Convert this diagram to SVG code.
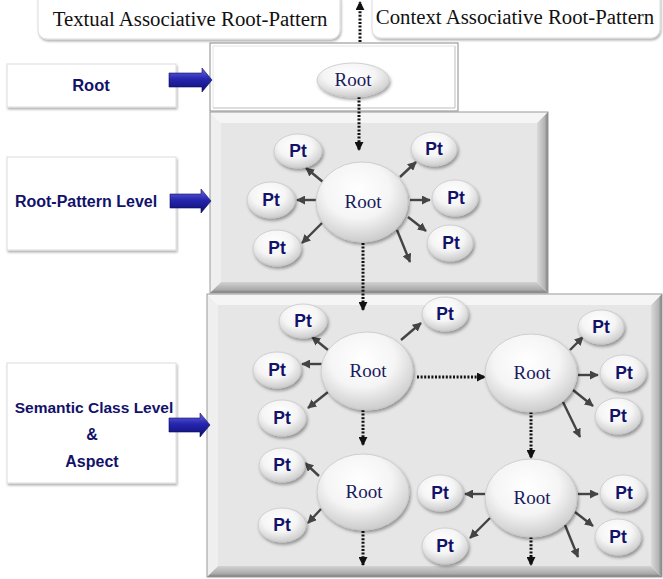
<svg xmlns="http://www.w3.org/2000/svg" width="663" height="579" viewBox="0 0 663 579">
<defs>
<style>
.lbl{fill:#fff;stroke:#dcdcdc;stroke-width:1;filter:url(#ls)}
.lt{font-family:"Liberation Sans",Arial,sans-serif;font-weight:bold;fill:#12126a;text-anchor:middle}
.st{font-family:"Liberation Serif","Times New Roman",serif;fill:#111;text-anchor:middle;font-size:20.8px}
.el{fill:url(#eg);stroke:#c8c8c8;stroke-width:.8;filter:url(#sh)}
.rt{font-family:"Liberation Serif","Times New Roman",serif;fill:#1a1a5e;font-size:19px;text-anchor:middle}
.pt{font-family:"Liberation Sans",Arial,sans-serif;font-weight:bold;fill:#12126a;font-size:17.5px;text-anchor:middle}
.sa{stroke:#444;stroke-width:2.4;fill:none;marker-end:url(#ah)}
.da{stroke:#111;stroke-width:3;stroke-dasharray:2 1.6;fill:none;marker-end:url(#dh)}
.ba{fill:url(#bg);stroke:#0c0c5a;stroke-width:.6}
.bt{fill:#f5f5f5}
.bl{fill:#efefef}
.br{fill:url(#gr)}
.bb{fill:url(#gb)}
.bf{fill:#e6e6e6}
.bo{fill:none;stroke:#9a9a9a;stroke-width:1}
</style>
<radialGradient id="eg" cx="45%" cy="35%" r="65%">
<stop offset="0" stop-color="#ffffff"/>
<stop offset="0.55" stop-color="#f5f5f5"/>
<stop offset="1" stop-color="#cdcdcd"/>
</radialGradient>
<linearGradient id="bg" x1="0" y1="0" x2="0" y2="1">
<stop offset="0" stop-color="#6a6ae0"/>
<stop offset="0.45" stop-color="#2626b0"/>
<stop offset="1" stop-color="#0e0e6e"/>
</linearGradient>
<linearGradient id="gr" x1="0" y1="0" x2="1" y2="0">
<stop offset="0" stop-color="#dadada"/>
<stop offset="0.7" stop-color="#b4b4b4"/>
<stop offset="1" stop-color="#7a7a7a"/>
</linearGradient>
<linearGradient id="gb" x1="0" y1="0" x2="0" y2="1">
<stop offset="0" stop-color="#d2d2d2"/>
<stop offset="0.7" stop-color="#aaaaaa"/>
<stop offset="1" stop-color="#777777"/>
</linearGradient>
<filter id="sh" x="-20%" y="-20%" width="150%" height="150%">
<feDropShadow dx="1.5" dy="2.5" stdDeviation="1.8" flood-color="#000" flood-opacity="0.35"/>
</filter>
<filter id="ls" x="-10%" y="-10%" width="125%" height="130%">
<feDropShadow dx="1" dy="2" stdDeviation="1.2" flood-color="#000" flood-opacity="0.3"/>
</filter>
<marker id="ah" viewBox="0 0 10 10" refX="9" refY="5" markerWidth="9" markerHeight="9" markerUnits="userSpaceOnUse" orient="auto">
<path d="M0,0 L10,5 L0,10 z" fill="#444"/>
</marker>
<marker id="dh" viewBox="0 0 10 10" refX="9" refY="5" markerWidth="9" markerHeight="9" markerUnits="userSpaceOnUse" orient="auto">
<path d="M0,0 L10,5 L0,10 z" fill="#111"/>
</marker>
</defs>

<rect width="663" height="579" fill="#fff"/>

<!-- top headings -->
<g id="textual-box">
<rect class="lbl" x="38" y="-10" width="302" height="49" rx="9"/>
<text class="st" x="190" y="26">Textual Associative Root-Pattern</text>
</g>
<g id="context-box">
<rect class="lbl" x="372" y="-10" width="288" height="48" rx="9"/>
<text class="st" x="515" y="24">Context Associative Root-Pattern</text>
</g>

<!-- left labels -->
<g id="label-root">
<rect class="lbl" x="7" y="64" width="169" height="43"/>
<text class="lt" x="91" y="91" font-size="16.5">Root</text>
</g>
<g id="label-rootpattern">
<rect class="lbl" x="7" y="157" width="169" height="93"/>
<text class="lt" x="86" y="207" font-size="16">Root-Pattern Level</text>
</g>
<g id="label-semantic">
<rect class="lbl" x="7" y="363" width="169" height="120"/>
<text class="lt" x="94" y="413" font-size="15.5">Semantic Class Level</text>
<text class="lt" x="92" y="440" font-size="16">&amp;</text>
<text class="lt" x="92" y="467" font-size="16">Aspect</text>
</g>

<!-- level frames -->
<g id="frame-root">
<rect x="210" y="43" width="248" height="68" fill="#fff" stroke="#8a8a8a" stroke-width="1"/>
<polyline points="213,108 213,46 455,46" fill="none" stroke="#e4e4e4" stroke-width="1"/>
<polyline points="213,108 455,108 455,46" fill="none" stroke="#bdbdbd" stroke-width="1"/>
</g>
<g id="frame-rootpattern">
<polygon class="bt" points="210,112 548,112 537,123 221,123"/>
<polygon class="bl" points="210,112 221,123 221,282 210,293"/>
<polygon class="br" points="548,112 548,293 537,282 537,123"/>
<polygon class="bb" points="210,293 548,293 537,282 221,282"/>
<rect class="bf" x="221" y="123" width="316" height="159"/>
<rect class="bo" x="210" y="112" width="338" height="181"/>
</g>
<g id="frame-semantic">
<polygon class="bt" points="207,294 662,294 651,305 218,305"/>
<polygon class="bl" points="207,294 218,305 218,566 207,577"/>
<polygon class="br" points="662,294 662,577 651,566 651,305"/>
<polygon class="bb" points="207,577 662,577 651,566 218,566"/>
<rect class="bf" x="218" y="305" width="433" height="261"/>
<rect class="bo" x="207" y="294" width="455" height="283"/>
</g>

<!-- blue arrows -->
<g id="blue-arrows">
<path class="ba" d="M169,73 H202 V68 L212,80 L202,92 V87 H169 Z"/>
<path class="ba" d="M170,194 H201 V189 L211,201 L201,213 V208 H170 Z"/>
<path class="ba" d="M169,418 H200 V413 L210,425 L200,437 V432 H169 Z"/>
</g>

<!-- connectors -->
<g id="connectors">
<line class="da" x1="360" y1="42" x2="360" y2="2"/>
<line class="da" x1="359" y1="97" x2="359" y2="150"/>
<line class="da" x1="363" y1="243" x2="363" y2="310"/>
<line class="da" x1="417" y1="377" x2="485" y2="377"/>
<line class="da" x1="363" y1="410" x2="363" y2="445"/>
<line class="da" x1="531" y1="412" x2="531" y2="458"/>
<line class="da" x1="363" y1="531" x2="363" y2="565"/>
<line class="da" x1="531" y1="537" x2="531" y2="565"/>

<line class="sa" x1="323" y1="182" x2="306" y2="168"/>
<line class="sa" x1="400" y1="177" x2="416" y2="162"/>
<line class="sa" x1="316" y1="200" x2="297" y2="200"/>
<line class="sa" x1="410" y1="200" x2="430" y2="200"/>
<line class="sa" x1="322" y1="223" x2="302" y2="243"/>
<line class="sa" x1="408" y1="217" x2="426" y2="231"/>
<line class="sa" x1="397" y1="230" x2="410" y2="262"/>

<line class="sa" x1="328" y1="350" x2="312" y2="337"/>
<line class="sa" x1="401" y1="340" x2="421" y2="323"/>
<line class="sa" x1="322" y1="364" x2="302" y2="364"/>
<line class="sa" x1="328" y1="392" x2="308" y2="408"/>

<line class="sa" x1="570" y1="350" x2="583" y2="337"/>
<line class="sa" x1="578" y1="375" x2="598" y2="375"/>
<line class="sa" x1="573" y1="390" x2="593" y2="406"/>
<line class="sa" x1="563" y1="402" x2="580" y2="437"/>

<line class="sa" x1="319" y1="476" x2="305" y2="463"/>
<line class="sa" x1="321" y1="509" x2="308" y2="523"/>

<line class="sa" x1="485" y1="494" x2="465" y2="494"/>
<line class="sa" x1="490" y1="518" x2="470" y2="538"/>
<line class="sa" x1="578" y1="494" x2="598" y2="494"/>
<line class="sa" x1="575" y1="512" x2="593" y2="526"/>
<line class="sa" x1="565" y1="525" x2="578" y2="557"/>
</g>

<!-- root nodes -->
<g id="root-top"><ellipse class="el" cx="353" cy="80" rx="36" ry="17"/><text class="rt" x="353" y="86">Root</text></g>
<g id="root-pattern"><ellipse class="el" cx="362" cy="202" rx="46" ry="40"/><text class="rt" x="363" y="208">Root</text></g>
<g id="root-a"><ellipse class="el" cx="367" cy="371" rx="46" ry="39"/><text class="rt" x="368" y="377">Root</text></g>
<g id="root-b"><ellipse class="el" cx="531" cy="373" rx="46" ry="39"/><text class="rt" x="532" y="379">Root</text></g>
<g id="root-c"><ellipse class="el" cx="363" cy="492" rx="46" ry="38"/><text class="rt" x="364" y="498">Root</text></g>
<g id="root-d"><ellipse class="el" cx="531" cy="498" rx="46" ry="39"/><text class="rt" x="532" y="504">Root</text></g>

<!-- pattern nodes -->
<g id="pt-1"><ellipse class="el" cx="298" cy="151" rx="24" ry="17"/><text class="pt" x="298" y="157">Pt</text></g>
<g id="pt-2"><ellipse class="el" cx="434" cy="149" rx="23" ry="17"/><text class="pt" x="434" y="155">Pt</text></g>
<g id="pt-3"><ellipse class="el" cx="271" cy="200" rx="24" ry="18"/><text class="pt" x="271" y="206">Pt</text></g>
<g id="pt-4"><ellipse class="el" cx="455" cy="198" rx="23" ry="18"/><text class="pt" x="456" y="204">Pt</text></g>
<g id="pt-5"><ellipse class="el" cx="277" cy="248" rx="24" ry="18"/><text class="pt" x="277" y="254">Pt</text></g>
<g id="pt-6"><ellipse class="el" cx="450" cy="243" rx="23" ry="18"/><text class="pt" x="451" y="249">Pt</text></g>

<g id="pt-a1"><ellipse class="el" cx="303" cy="321" rx="24" ry="17"/><text class="pt" x="303" y="327">Pt</text></g>
<g id="pt-a2"><ellipse class="el" cx="445" cy="314" rx="23" ry="17"/><text class="pt" x="445" y="320">Pt</text></g>
<g id="pt-a3"><ellipse class="el" cx="277" cy="370" rx="24" ry="18"/><text class="pt" x="277" y="376">Pt</text></g>
<g id="pt-a4"><ellipse class="el" cx="282" cy="418" rx="24" ry="18"/><text class="pt" x="282" y="424">Pt</text></g>

<g id="pt-b1"><ellipse class="el" cx="601" cy="327" rx="23" ry="17"/><text class="pt" x="601" y="333">Pt</text></g>
<g id="pt-b2"><ellipse class="el" cx="623" cy="373" rx="23" ry="18"/><text class="pt" x="624" y="379">Pt</text></g>
<g id="pt-b3"><ellipse class="el" cx="618" cy="416" rx="23" ry="18"/><text class="pt" x="618" y="422">Pt</text></g>

<g id="pt-c1"><ellipse class="el" cx="282" cy="465" rx="23" ry="17"/><text class="pt" x="282" y="471">Pt</text></g>
<g id="pt-c2"><ellipse class="el" cx="282" cy="525" rx="24" ry="17"/><text class="pt" x="282" y="531">Pt</text></g>

<g id="pt-d1"><ellipse class="el" cx="440" cy="493" rx="23" ry="18"/><text class="pt" x="440" y="499">Pt</text></g>
<g id="pt-d2"><ellipse class="el" cx="445" cy="546" rx="23" ry="18"/><text class="pt" x="445" y="552">Pt</text></g>
<g id="pt-d3"><ellipse class="el" cx="623" cy="493" rx="23" ry="18"/><text class="pt" x="624" y="499">Pt</text></g>
<g id="pt-d4"><ellipse class="el" cx="618" cy="537" rx="23" ry="18"/><text class="pt" x="618" y="543">Pt</text></g>
</svg>
